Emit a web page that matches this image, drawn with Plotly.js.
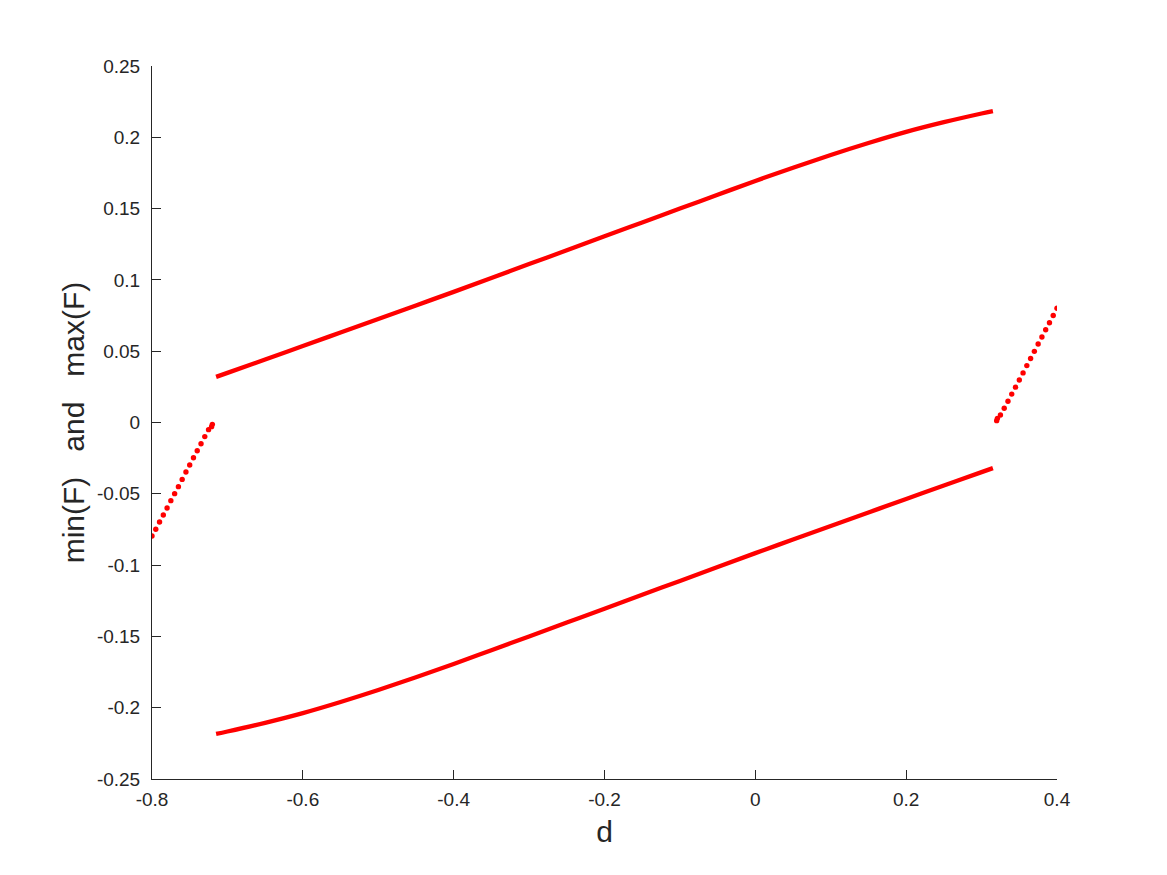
<!DOCTYPE html>
<html>
<head>
<meta charset="utf-8">
<script src="https://cdn.plot.ly/plotly-3.0.1.min.js"></script>
<style>
  body { margin: 0; background: #fff; }
  #myPlot { width: 1167px; height: 875px; }
</style>
</head>
<body>
<div id="myPlot"></div>
<script>
// upper branch, max(F)
var dMain = [-0.715, -0.70, -0.65, -0.60, -0.55, -0.50, -0.45, -0.40, -0.35, -0.30, -0.25, -0.20,
             -0.15, -0.10, -0.05, 0.00, 0.05, 0.10, 0.15, 0.20, 0.25, 0.30, 0.315]
var maxF = [0.0320, 0.0348, 0.0442, 0.0536, 0.0631, 0.0726, 0.0821, 0.0916, 0.1013, 0.1111, 0.1208, 0.1306,
            0.1403, 0.1500, 0.1597, 0.1694, 0.1787, 0.1876, 0.1960, 0.2038, 0.2106, 0.2167, 0.2184]
// lower branch, min(F)
var minF = [-0.2184, -0.2167, -0.2106, -0.2038, -0.1960, -0.1876, -0.1787, -0.1694, -0.1597, -0.1500, -0.1403, -0.1306,
            -0.1208, -0.1111, -0.1013, -0.0916, -0.0821, -0.0726, -0.0631, -0.0536, -0.0442, -0.0348, -0.0320]

// short pieces near the ends
var dLeft = [-0.800, -0.795, -0.790, -0.785, -0.780, -0.775, -0.770, -0.765, -0.760, -0.755,
             -0.750, -0.745, -0.740, -0.735, -0.730, -0.725, -0.721, -0.720]
var fLeft = [-0.0796, -0.0749, -0.0698, -0.0649, -0.0600, -0.0548, -0.0499, -0.0450, -0.0399, -0.0347,
             -0.0298, -0.0247, -0.0198, -0.0149, -0.0099, -0.0050, -0.0029, -0.0013]
var dRight = [0.320, 0.321, 0.325, 0.330, 0.335, 0.340, 0.345, 0.350, 0.355, 0.360,
              0.365, 0.370, 0.375, 0.380, 0.385, 0.390, 0.395, 0.400]
var fRight = [0.0013, 0.0029, 0.0053, 0.0100, 0.0149, 0.0199, 0.0248, 0.0298, 0.0348, 0.0399,
              0.0449, 0.0499, 0.0550, 0.0600, 0.0650, 0.0700, 0.0750, 0.0801]

var xTicks = [-0.8, -0.6, -0.4, -0.2, 0, 0.2, 0.4]
var xTickText = ['-0.8', '-0.6', '-0.4', '-0.2', '0', '0.2', '0.4']
var yTicks = [-0.25, -0.2, -0.15, -0.1, -0.05, 0, 0.05, 0.1, 0.15, 0.2, 0.25]
var yTickText = ['-0.25', '-0.2', '-0.15', '-0.1', '-0.05', '0', '0.05', '0.1', '0.15', '0.2', '0.25']

var red = 'rgb(255,0,0)'
var ink = 'rgb(38,38,38)'

var data = [
  {x: dMain, y: maxF, mode: 'lines', line: {color: red, width: 4.3, shape: 'spline'}},
  {x: dMain, y: minF, mode: 'lines', line: {color: red, width: 4.3, shape: 'spline'}},
  {x: dLeft, y: fLeft, mode: 'markers', marker: {color: red, size: 5.4}},
  {x: dRight, y: fRight, mode: 'markers', marker: {color: red, size: 5.4}}
]

var sp = '\u00a0\u00a0\u00a0'

var layout = {
  width: 1167,
  height: 875,
  showlegend: false,
  paper_bgcolor: '#fff',
  plot_bgcolor: '#fff',
  margin: {l: 152, r: 110, t: 66, b: 96, pad: 0},
  font: {family: 'Liberation Sans, Arial, sans-serif', color: ink},
  xaxis: {
    range: [-0.8, 0.4],
    tickvals: xTicks, ticktext: xTickText,
    ticks: 'inside', ticklen: 9, tickcolor: ink, tickwidth: 1,
    showline: true, linecolor: ink, linewidth: 1,
    showgrid: false, zeroline: false,
    tickfont: {size: 19, color: ink},
    ticklabelstandoff: 3,
    title: {text: 'd', font: {size: 30, color: ink}, standoff: 12}
  },
  yaxis: {
    range: [-0.25, 0.25],
    tickvals: yTicks, ticktext: yTickText,
    ticks: 'inside', ticklen: 9, tickcolor: ink, tickwidth: 1,
    showline: true, linecolor: ink, linewidth: 1,
    showgrid: false, zeroline: false,
    tickfont: {size: 19, color: ink},
    ticklabelstandoff: 7,
    title: {text: 'min(F)' + sp + 'and' + sp + 'max(F)', font: {size: 30, color: ink}, standoff: 3}
  }
}

Plotly.newPlot('myPlot', data, layout, {staticPlot: true})
</script>
</body>
</html>
